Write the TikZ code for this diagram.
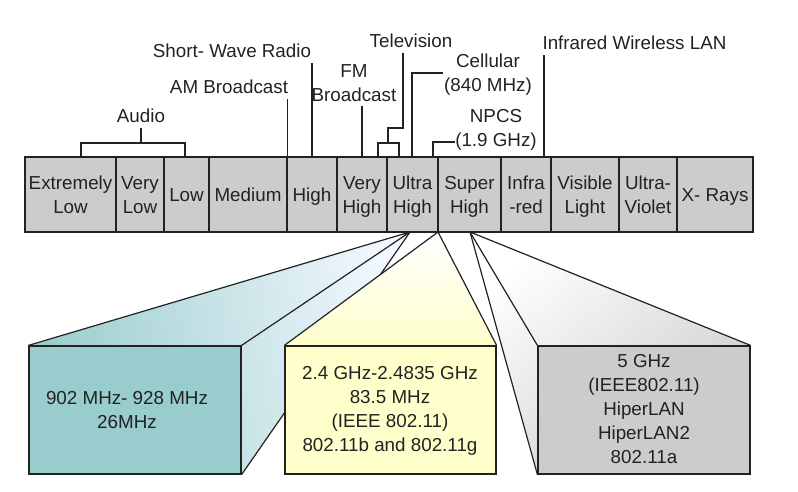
\documentclass[tikz,border=0pt]{standalone}
\usepackage{fontspec}
\setmainfont{Liberation Sans}
\definecolor{tealc}{RGB}{153,204,204}
\definecolor{yelc}{RGB}{255,255,204}
\definecolor{grayc}{RGB}{204,204,204}
\definecolor{barc}{RGB}{204,204,204}
\definecolor{ink}{RGB}{34,34,34}
\definecolor{fadeb}{RGB}{242,248,255}
\begin{document}
\begin{tikzpicture}[x=1pt,y=-1pt,
  every node/.style={font=\fontsize{18.8pt}{24pt}\selectfont, text=ink, inner sep=0.5pt, align=center,
    execute at begin node=\vphantom{(}, execute at end node=\vphantom{(}},
  cell/.style={draw=ink, fill=barc, line width=1.2pt, minimum height=75pt, inner sep=0pt},
  lead/.style={draw=ink, line width=1.2pt},
  facet/.style={draw=ink, line width=1.2pt, line join=round},
  front/.style={draw=ink, line width=1.2pt, inner sep=0pt, minimum height=128pt}]
\useasboundingbox (0,0) rectangle (798,492);

% apex coordinates on the bar bottom
\coordinate (A1) at (410,232);
\coordinate (A2) at (438,232);
\coordinate (A3) at (470,232);

% ---------- lower boxes ----------
\node[front, fill=tealc, minimum width=212pt] (b1) at (135,410) {};
\node[front, fill=yelc, minimum width=211pt] (b2) at (390.5,410) {};
\node[front, fill=grayc, minimum width=212pt] (b3) at (644,410) {};

% teal pyramid
\path[left color=tealc, middle color=tealc!92!fadeb, right color=fadeb, shading angle=100]
  (b1.north west) -- (A1) -- (b1.south east) -- (b1.north east) -- cycle;
\draw[facet] (b1.north west) -- (A1) -- (b1.north east);
\draw[facet] (A1) -- (b1.south east);
\node[front, fill=tealc, minimum width=212pt] (b1f) at (135,410) {};

% yellow pyramid
\path[top color=white, middle color=yelc!70!white, bottom color=yelc]
  (b2.north west) -- (A2) -- (b2.north east) -- cycle;
\draw[facet] (b2.north west) -- (A2) -- (b2.north east);
\node[front, fill=yelc, minimum width=211pt] (b2f) at (390.5,410) {};

% gray pyramid
\path[top color=white, middle color=grayc!75!white, bottom color=grayc, shading angle=40]
  (b3.south west) -- (A3) -- (b3.north east) -- (b3.north west) -- cycle;
\draw[facet] (b3.north east) -- (A3) -- (b3.north west);
\draw[facet] (A3) -- (b3.south west);
\node[front, fill=grayc, minimum width=212pt] (b3f) at (644,410) {};

\node (bt1) at (127,412) {902 MHz- 928 MHz\\26MHz};
\node (bt2) at (390,411) {2.4 GHz-2.4835 GHz\\83.5 MHz\\(IEEE 802.11)\\802.11b and 802.11g};
\node (bt3) at (644,411) {5 GHz\\(IEEE802.11)\\HiperLAN\\HiperLAN2\\802.11a};

% ---------- spectrum bar ----------
\node[cell, minimum width=91pt] (c1) at (70.5,194.5) {};
\node[cell, minimum width=48pt] (c2) at (140,194.5) {};
\node[cell, minimum width=45pt] (c3) at (186.5,194.5) {};
\node[cell, minimum width=78pt] (c4) at (248,194.5) {};
\node[cell, minimum width=50pt] (c5) at (312,194.5) {};
\node[cell, minimum width=50pt] (c6) at (362,194.5) {};
\node[cell, minimum width=51pt] (c7) at (412.5,194.5) {};
\node[cell, minimum width=63pt] (c8) at (469.5,194.5) {};
\node[cell, minimum width=50pt] (c9) at (526,194.5) {};
\node[cell, minimum width=68pt] (c10) at (585,194.5) {};
\node[cell, minimum width=58pt] (c11) at (648,194.5) {};
\node[cell, minimum width=76pt] (c12) at (715,194.5) {};

\node (t1) at (70.5,197) {Extremely\\Low};
\node (t2) at (140,197) {Very\\Low};
\node (t3) at (186.5,197) {Low};
\node (t4) at (248,197) {Medium};
\node (t5) at (312,197) {High};
\node (t6) at (362,197) {Very\\High};
\node (t7) at (412.5,197) {Ultra\\High};
\node (t8) at (469.5,197) {Super\\High};
\node (t9) at (526,197) {Infra\\-red};
\node (t10) at (585,197) {Visible\\Light};
\node (t11) at (648,197) {Ultra-\\Violet};
\node (t12) at (715,197) {X- Rays};

% ---------- labels above ----------
\node (audio) at (141,118.1) {Audio};
\node (amb) at (229,89.1) {AM Broadcast};
\node (swr) at (232,53.1) {Short- Wave Radio};
\node (fm) at (354,85.1) {FM\\Broadcast};
\node (tv) at (411,43.1) {Television};
\node (cel) at (488,75.1) {Cellular\\(840 MHz)};
\node (npcs) at (496,130.1) {NPCS\\(1.9 GHz)};
\node (irl) at (634.5,45.1) {Infrared Wireless LAN};

% audio bracket
\coordinate (aL) at (81,157);
\coordinate (aR) at (185,157);
\coordinate (ab) at (141,143);
\draw[lead] (audio.south) -- (ab);
\draw[lead] (aL) |- (ab) -| (aR);

% AM, short wave, FM
\coordinate (amk) at (287.5,157);
\draw[lead] (amk) -- (amk |- amb.south);
\draw[lead] (c5.north) -- (c5.north |- swr.south);
\draw[lead] (c6.north) -- (c6.north |- fm.south);

% television
\coordinate (tvk) at (403,128);
\coordinate (tvm) at (388,143);
\coordinate (tvL) at (378,157);
\coordinate (tvR) at (399,157);
\draw[lead] (tv.south -| tvk) -- (tvk) -| (tvm);
\draw[lead] (tvL) |- (tvm) -| (tvR);

% cellular
\coordinate (celk) at (412,73);
\coordinate (celb) at (412,157);
\draw[lead] (celb) -- (celk) -- (cel.west |- celk);

% NPCS
\coordinate (npk) at (433,142);
\coordinate (npb) at (433,157);
\draw[lead] (npb) -- (npk) -- (npcs.west |- npk);

% infrared wireless LAN
\coordinate (irb) at (544,157);
\draw[lead] (irb) -- (irb |- irl.south);
\end{tikzpicture}
\end{document}
